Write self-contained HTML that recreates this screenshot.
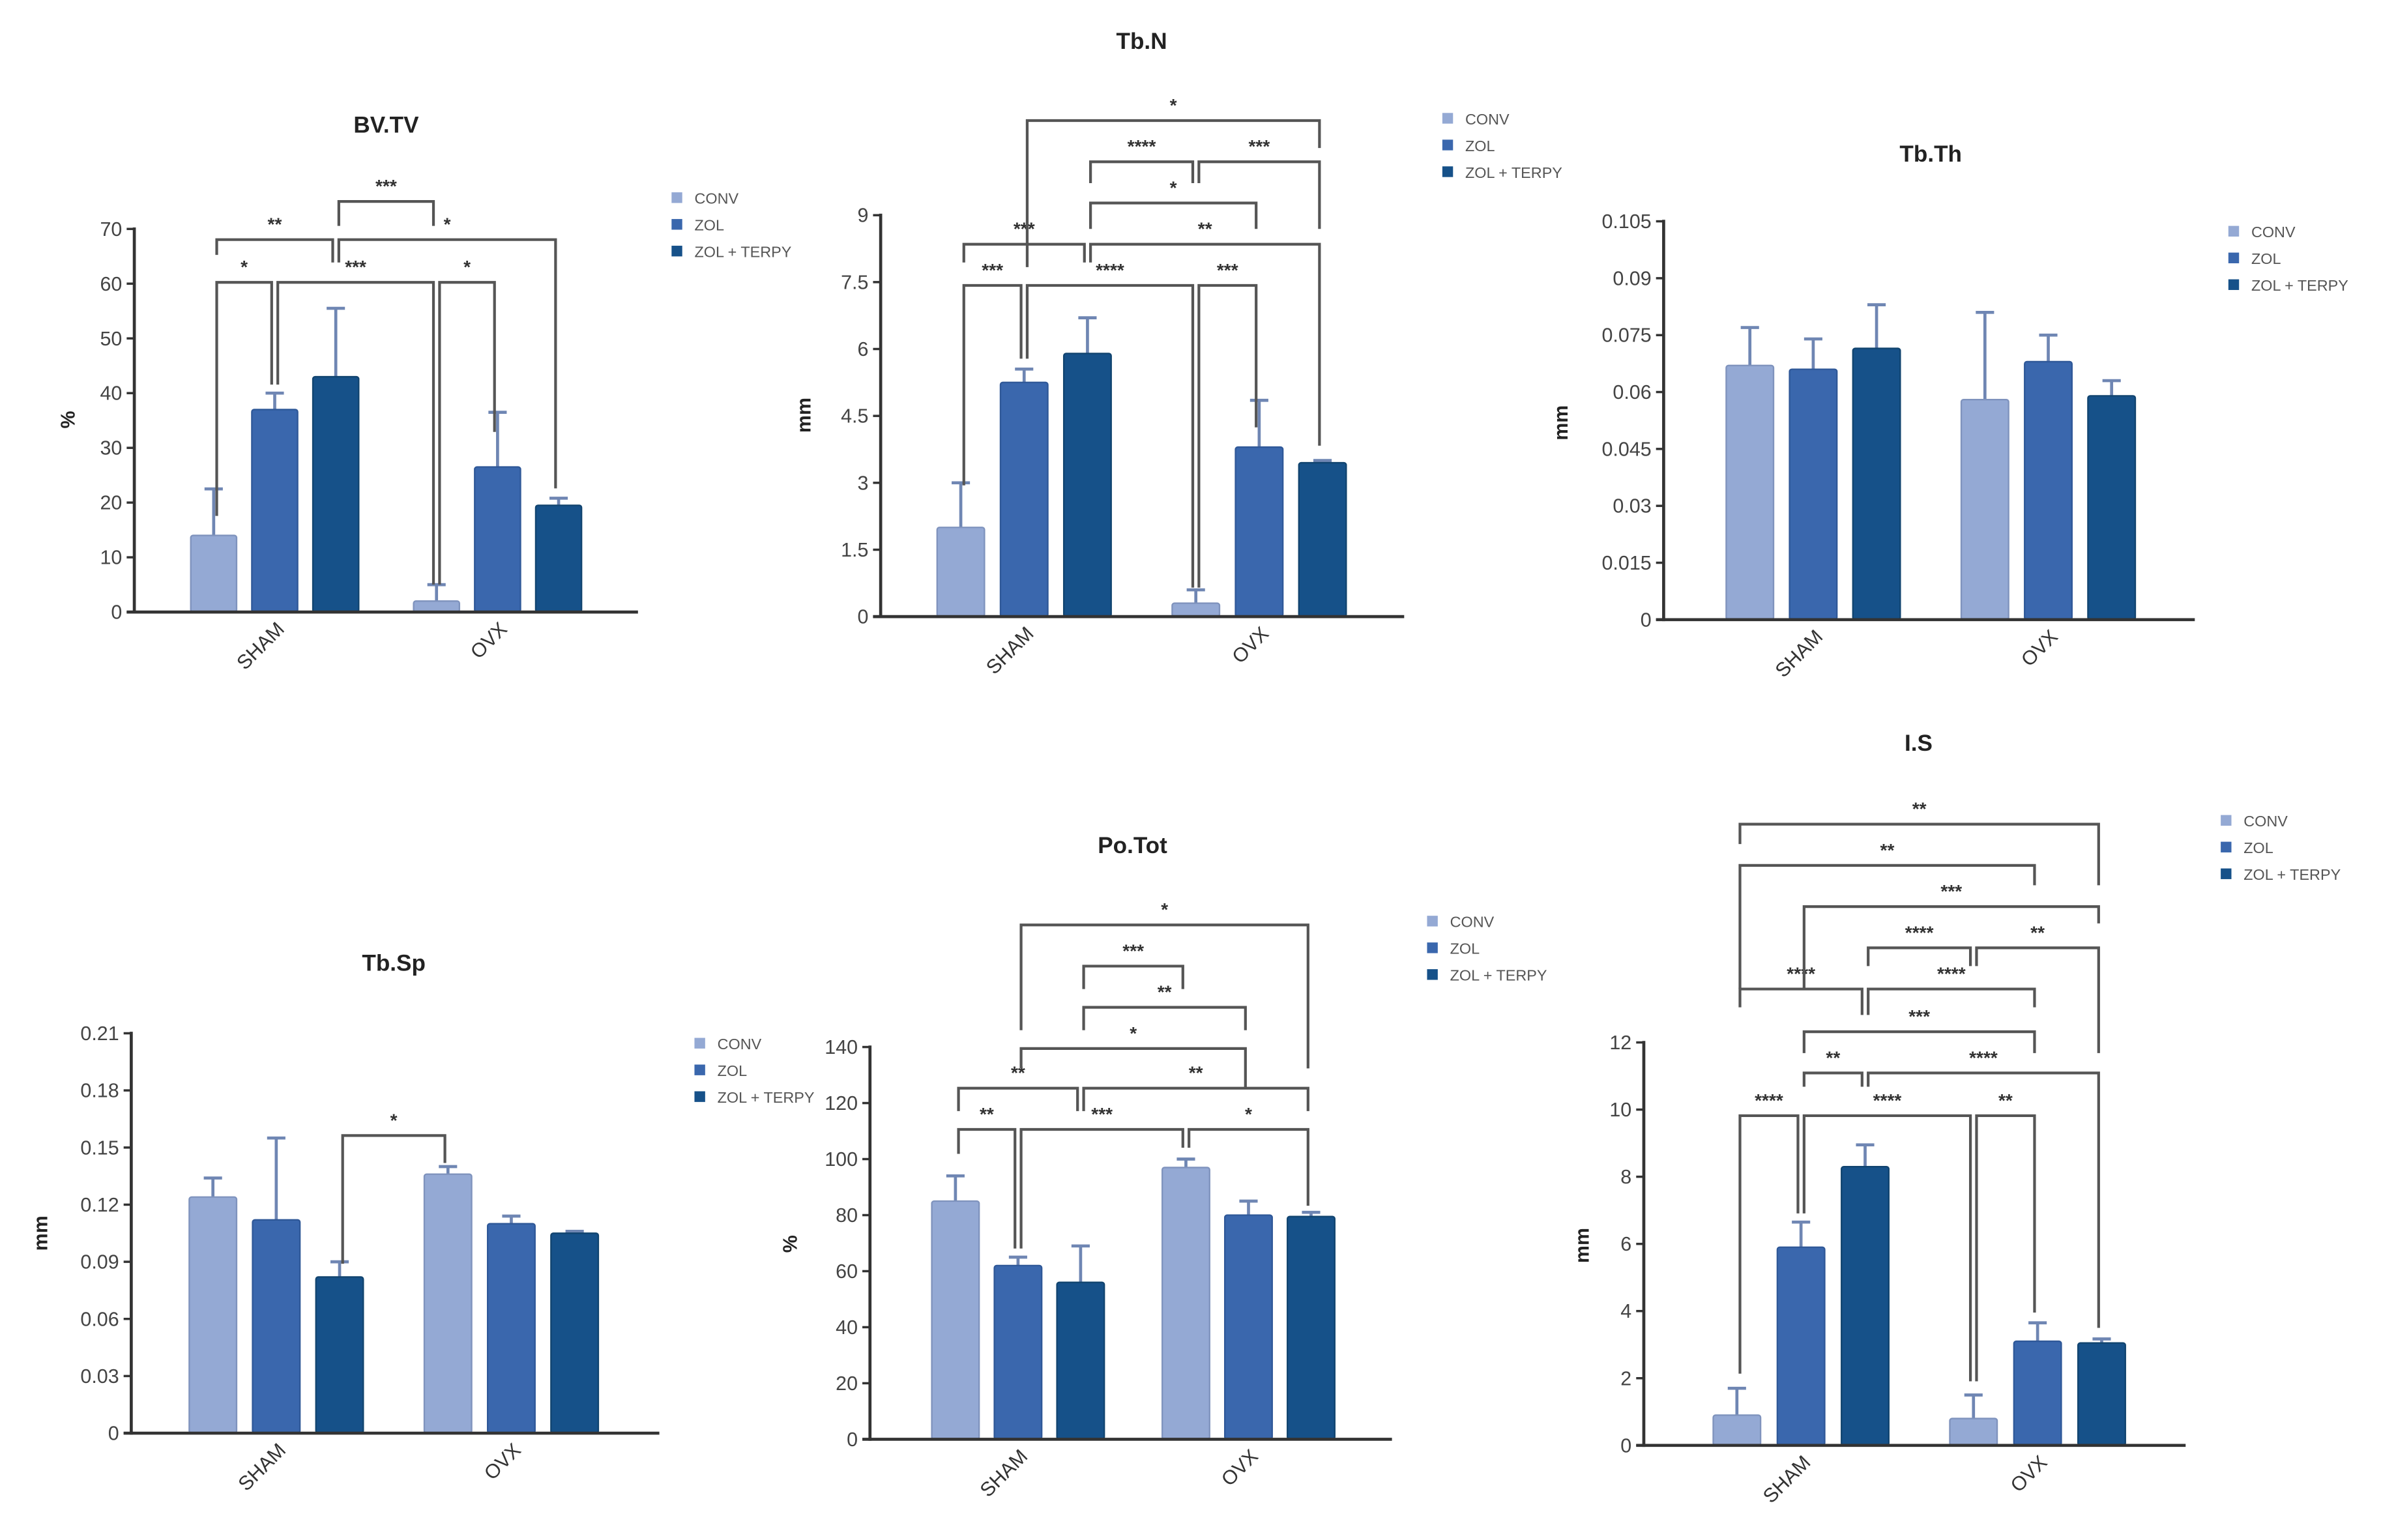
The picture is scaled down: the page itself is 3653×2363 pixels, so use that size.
<!DOCTYPE html>
<html><head><meta charset="utf-8">
<style>
html,body{margin:0;padding:0;background:#fff;}
svg{display:block;}
text{font-family:"Liberation Sans",Arial,sans-serif;}
</style></head>
<body>
<svg id="fig" width="3653" height="2363" viewBox="0 0 1560 1009" preserveAspectRatio="none" xmlns="http://www.w3.org/2000/svg">
<rect x="0" y="0" width="1560" height="1009" fill="#fff"/>
</svg>
<script>
const categories = ['SHAM', 'OVX'];
const seriesNames = ['CONV', 'ZOL', 'ZOL + TERPY'];

const bvtvMean = [14, 37, 43, 2, 26.5, 19.5];
const bvtvErr = [8.5, 3, 12.5, 3, 10, 1.3];
const bvtvTicks = ['0','10','20','30','40','50','60','70'];

const tbnMean = [2.0, 5.25, 5.9, 0.3, 3.8, 3.45];
const tbnErr = [1.0, 0.3, 0.8, 0.3, 1.05, 0.05];
const tbnTicks = ['0','1.5','3','4.5','6','7.5','9'];

const tbthMean = [0.067, 0.066, 0.0715, 0.058, 0.068, 0.059];
const tbthErr = [0.010, 0.008, 0.0115, 0.023, 0.007, 0.004];
const tbthTicks = ['0','0.015','0.03','0.045','0.06','0.075','0.09','0.105'];

const tbspMean = [0.124, 0.112, 0.082, 0.136, 0.110, 0.105];
const tbspErr = [0.010, 0.043, 0.008, 0.004, 0.004, 0.001];
const tbspTicks = ['0','0.03','0.06','0.09','0.12','0.15','0.18','0.21'];

const potMean = [85, 62, 56, 97, 80, 79.5];
const potErr = [9, 3, 13, 3, 5, 1.5];
const potTicks = ['0','20','40','60','80','100','120','140'];

const isMean = [0.9, 5.9, 8.3, 0.8, 3.1, 3.05];
const isErr = [0.8, 0.75, 0.65, 0.7, 0.55, 0.12];
const isTicks = ['0','2','4','6','8','10','12'];

// significance brackets: [fromBar, toBar, lineY, leftEndY, rightEndY, label]
const bvtvSig = [[0,1,185,338,252,'*'],[1,3,185,252,383,'***'],[3,4,185,383,283,'*'],
  [0,2,157,167,172,'**'],[2,5,157,172,320,'*'],[2,3,132,148,148,'***']];
const tbnSig = [[0,1,187,318,235,'***'],[1,3,187,235,385,'****'],[3,4,187,385,280,'***'],
  [0,2,160,172,172,'***'],[2,5,160,172,292,'**'],[2,4,133,150,150,'*'],
  [2,3,106,120,120,'****'],[3,5,106,120,150,'***'],[1,5,79,175,97,'*']];
const tbspSig = [[2,3,744,828,762,'*']];
const potSig = [[0,1,740,756,818,'**'],[1,3,740,818,752,'***'],[3,5,740,752,790,'*'],
  [0,2,713,728,728,'**'],[2,5,713,728,728,'**'],[1,4,687,700,713,'*'],
  [2,4,660,675,675,'**'],[2,3,633,648,648,'***'],[1,5,606,675,700,'*']];
const isSig = [[0,1,731,900,795,'****'],[1,3,731,795,905,'****'],[3,4,731,905,860,'**'],
  [1,2,703,712,712,'**'],[2,5,703,712,870,'****'],[1,4,676,690,690,'***'],
  [0,2,648,660,665,'****'],[2,4,648,665,660,'****'],[2,3,621,633,633,'****'],[3,5,621,633,690,'**'],
  [1,5,594,648,605,'***'],[0,4,567,648,580,'**'],[0,5,540,553,580,'**']];

const colors = ['#94a9d4', '#3a67ad', '#165189'];
const strokes = ['#7f93bd', '#2f5898', '#11446f'];
const NS = 'http://www.w3.org/2000/svg';
const svg = document.getElementById('fig');

function mk(tag, attrs, parent) {
  const e = document.createElementNS(NS, tag);
  for (const k in attrs) e.setAttribute(k, attrs[k]);
  (parent || svg).appendChild(e);
  return e;
}

function panel(cfg) {
  const g = mk('g', {});
  
  
  const yScale = v => cfg.zeroY - (v / cfg.max) * (cfg.zeroY - cfg.topY);
  const xBar = i => {
    const grp = Math.floor(i / 3), s = i % 3;
    return cfg.groupX[grp] + (s - 1) * cfg.sp;
  };
  // title
  const t = mk('text', {x: cfg.title[0], y: cfg.title[1], 'text-anchor': 'middle', 'font-size': 15, 'font-weight': 'bold', fill: '#222'}, g);
  t.textContent = cfg.name;
  
  
  // y label
  const yl = mk('text', {x: 0, y: 0, 'text-anchor': 'middle', 'font-size': 13, 'font-weight': 'bold', fill: '#222',
    transform: `translate(${cfg.ylab[0]},${cfg.ylab[1]}) rotate(-90)`}, g);
  yl.textContent = cfg.unit;
  
  
  // ticks
  const n = cfg.ticks.length;
  cfg.ticks.forEach((lab, k) => {
    const v = cfg.max * k / (n - 1);
    const y = yScale(v);
    const tk = mk('line', {x1: cfg.ax - 5, x2: cfg.ax, y1: y, y2: y, stroke: '#333', 'stroke-width': 1.5}, g);
    
    
    const tl = mk('text', {x: cfg.ax - 8, y: y + 4.5, 'text-anchor': 'end', 'font-size': 13, fill: '#444'}, g);
    tl.textContent = lab;
    
    
  });
  // bars
  cfg.mean.forEach((m, i) => {
    const x = xBar(i), s = i % 3;
    const yTop = yScale(m), yErr = yScale(m + cfg.err[i]);
    const eb = mk('line', {x1: x, x2: x, y1: yTop, y2: yErr, stroke: '#6f86b3', 'stroke-width': 2}, g);
    
    
    const cap = mk('line', {x1: x - 6, x2: x + 6, y1: yErr, y2: yErr, stroke: '#6f86b3', 'stroke-width': 2}, g);
    
    
    const b = mk('rect', {x: x - cfg.bw / 2, y: yTop, width: cfg.bw, height: cfg.zeroY - yTop, fill: colors[s], stroke: strokes[s], 'stroke-width': 1, rx: 1.5}, g);
    
    
  });
  // axes
  const ya = mk('line', {x1: cfg.ax, x2: cfg.ax, y1: cfg.topY - 1, y2: cfg.zeroY + 1, stroke: '#333', 'stroke-width': 2}, g);
  
  
  const xa = mk('line', {x1: cfg.ax - 5, x2: cfg.xEnd, y1: cfg.zeroY, y2: cfg.zeroY, stroke: '#333', 'stroke-width': 2}, g);
  
  
  categories.forEach((c, k) => {
    const x = cfg.groupX[k] + 7, y = cfg.zeroY + 12;
    const cl = mk('text', {x: 0, y: 0, 'text-anchor': 'end', 'font-size': 13, fill: '#333',
      transform: `translate(${x},${y}) rotate(-45)`}, g);
    cl.textContent = c;
    
    
  });
  // brackets
  (cfg.sig || []).forEach(b => {
    const xl = xBar(b[0]) + 2, xr = xBar(b[1]) - 2;
    const p = mk('path', {d: `M${xl},${b[3]} L${xl},${b[2]} L${xr},${b[2]} L${xr},${b[4]}`, fill: 'none', stroke: '#555', 'stroke-width': 1.8}, g);
    
    
    const st = mk('text', {x: (xl + xr) / 2, y: b[2] - 6, 'text-anchor': 'middle', 'font-size': 12, 'font-weight': 'bold', fill: '#333'}, g);
    st.textContent = b[5];
    
    
  });
  // legend
  seriesNames.forEach((sn, s) => {
    const y = cfg.legend[1] + s * 17.5;
    const sq = mk('rect', {x: cfg.legend[0], y: y - 4, width: 7, height: 7, fill: colors[s]}, g);
    
    
    const lt = mk('text', {x: cfg.legend[0] + 15, y: y + 3.5, 'font-size': 10, fill: '#555'}, g);
    lt.textContent = sn;
    
    
  });
}

panel({id: 'bv-tv', name: 'BV.TV', unit: '%', ax: 88, zeroY: 401, topY: 150, max: 70, xEnd: 418,
  groupX: [180, 326], sp: 40, bw: 30, mean: bvtvMean, err: bvtvErr, ticks: bvtvTicks, sig: bvtvSig,
  title: [253, 87], legend: [440, 130], ylab: [49, 275]});
panel({id: 'tb-n', name: 'Tb.N', unit: 'mm', ax: 577, zeroY: 404, topY: 141, max: 9, xEnd: 920,
  groupX: [671, 825], sp: 41.5, bw: 31, mean: tbnMean, err: tbnErr, ticks: tbnTicks, sig: tbnSig,
  title: [748, 32], legend: [945, 78], ylab: [531, 272]});
panel({id: 'tb-th', name: 'Tb.Th', unit: 'mm', ax: 1090, zeroY: 406, topY: 145, max: 0.105, xEnd: 1438,
  groupX: [1188, 1342], sp: 41.5, bw: 31, mean: tbthMean, err: tbthErr, ticks: tbthTicks,
  title: [1265, 106], legend: [1460, 152], ylab: [1027, 277]});
panel({id: 'tb-sp', name: 'Tb.Sp', unit: 'mm', ax: 86, zeroY: 939, topY: 677, max: 0.21, xEnd: 432,
  groupX: [181, 335], sp: 41.5, bw: 31, mean: tbspMean, err: tbspErr, ticks: tbspTicks, sig: tbspSig,
  title: [258, 636], legend: [455, 684], ylab: [31, 808]});
panel({id: 'po-tot', name: 'Po.Tot', unit: '%', ax: 570, zeroY: 943, topY: 686, max: 140, xEnd: 912,
  groupX: [667, 818], sp: 41, bw: 31, mean: potMean, err: potErr, ticks: potTicks, sig: potSig,
  title: [742, 559], legend: [935, 604], ylab: [522, 815]});
panel({id: 'i-s', name: 'I.S', unit: 'mm', ax: 1077, zeroY: 947, topY: 683, max: 12, xEnd: 1432,
  groupX: [1180, 1335], sp: 42, bw: 31, mean: isMean, err: isErr, ticks: isTicks, sig: isSig,
  title: [1257, 492], legend: [1455, 538], ylab: [1041, 816]});
</script>
</body></html>
